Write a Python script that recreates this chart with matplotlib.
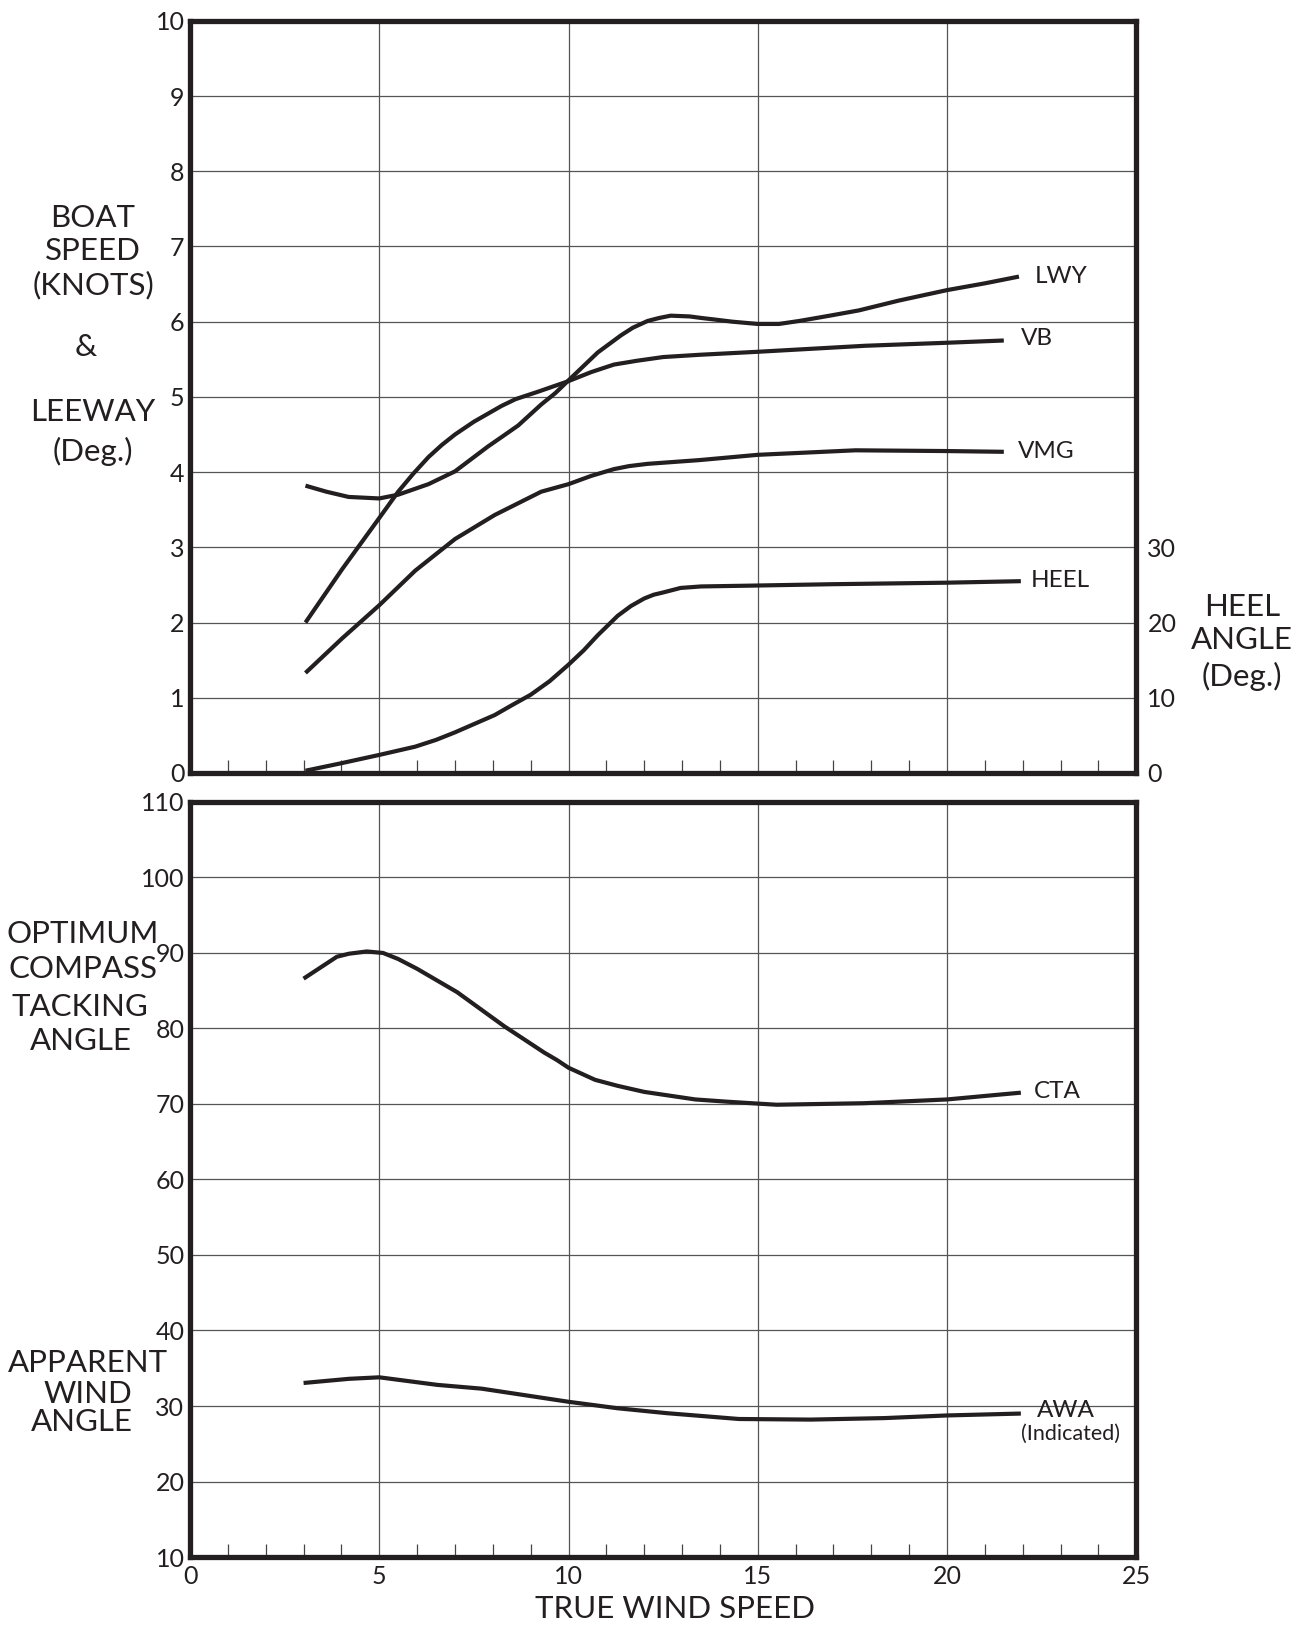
import matplotlib
matplotlib.use("Agg")
import matplotlib.pyplot as plt
from matplotlib.ticker import MultipleLocator, FixedLocator

plt.rcParams['font.family'] = ['Lato', 'DejaVu Sans']

# ---------------- data ----------------
lwy_x = [3.05, 3.6, 4.19, 5.0, 5.5, 6.3, 7.0, 7.87, 8.3, 8.67, 9.28, 9.65, 10.0, 10.77,
         11.39, 11.7, 12.09, 12.4, 12.7, 13.2, 13.5, 13.84, 14.33, 15.0, 15.56, 16.1,
         16.9, 17.67, 18.72, 20.0, 21.0, 21.9]
lwy_y = [3.82, 3.74, 3.67, 3.65, 3.70, 3.84, 4.01, 4.34, 4.49, 4.62, 4.90, 5.05, 5.22,
         5.59, 5.82, 5.92, 6.01, 6.05, 6.08, 6.07, 6.05, 6.03, 6.00, 5.97, 5.97, 6.01,
         6.08, 6.15, 6.28, 6.42, 6.51, 6.60]

vb_x = [3.05, 4.02, 5.0, 5.5, 5.9, 6.3, 6.65, 7.0, 7.5, 8.23, 8.6, 9.2, 9.6, 10.0,
        10.6, 11.2, 11.8, 12.5, 13.46, 15.0, 17.84, 20.0, 21.5]
vb_y = [2.0, 2.71, 3.39, 3.74, 3.98, 4.2, 4.36, 4.5, 4.67, 4.88, 4.97, 5.07, 5.14, 5.21,
        5.33, 5.43, 5.48, 5.53, 5.56, 5.6, 5.68, 5.72, 5.75]

vmg_x = [3.05, 4.02, 5.0, 5.95, 7.0, 8.05, 9.28, 10.0, 10.6, 11.2, 11.6, 12.09, 13.46,
         15.0, 17.58, 20.0, 21.5]
vmg_y = [1.33, 1.79, 2.23, 2.69, 3.11, 3.43, 3.74, 3.84, 3.95, 4.04, 4.08, 4.11, 4.16,
         4.23, 4.29, 4.28, 4.27]

heel_x = [3.05, 4.0, 5.0, 5.95, 6.5, 7.0, 8.05, 8.5, 9.0, 9.5, 10.0, 10.4, 10.77, 11.3,
          11.65, 12.0, 12.25, 12.5, 12.96, 13.5, 14.72, 17.0, 20.0, 21.95]
heel_deg = [0.3, 1.3, 2.4, 3.5, 4.4, 5.4, 7.7, 9.0, 10.4, 12.2, 14.4, 16.3, 18.3, 20.9,
            22.2, 23.2, 23.7, 24.0, 24.6, 24.8, 24.9, 25.1, 25.3, 25.5]

cta_x = [3.0, 3.88, 4.2, 4.67, 5.1, 5.5, 6.0, 7.06, 8.3, 9.36, 9.7, 10.0, 10.7, 11.3,
         12.0, 13.35, 14.2, 15.0, 15.5, 17.8, 20.0, 21.95]
cta_y = [86.6, 89.5, 89.9, 90.2, 90.0, 89.2, 87.9, 84.8, 80.3, 76.8, 75.8, 74.8, 73.2,
         72.4, 71.6, 70.6, 70.3, 70.05, 69.9, 70.1, 70.6, 71.5]

awa_x = [3.0, 4.2, 5.0, 6.53, 7.7, 10.0, 11.3, 12.6, 14.5, 16.4, 18.35, 20.0, 21.95]
awa_y = [33.05, 33.6, 33.8, 32.8, 32.3, 30.56, 29.7, 29.05, 28.28, 28.2, 28.4, 28.75, 29.0]

x_ticks = [0, 5, 10, 15, 20, 25]
top_y_ticks = [0, 1, 2, 3, 4, 5, 6, 7, 8, 9, 10]
heel_ticks = [0, 10, 20, 30]
bot_y_ticks = [10, 20, 30, 40, 50, 60, 70, 80, 90, 100, 110]

# ---------------- styling ----------------
INK = '#231f20'
GRID = '#555555'
W, H = 1315, 1628
fig = plt.figure(figsize=(W / 100, H / 100), dpi=100)

ax_top = fig.add_axes([0.1445, 0.5252, 0.7196, 0.4620])
ax_bot = fig.add_axes([0.1445, 0.0436, 0.7196, 0.4638])

TICK_FS = 18

def style(ax, yticks, ylim, show_x_labels):
    ax.set_xlim(0, 25)
    ax.set_ylim(*ylim)
    ax.xaxis.set_major_locator(FixedLocator(x_ticks))
    ax.xaxis.set_minor_locator(MultipleLocator(1))
    ax.yaxis.set_major_locator(FixedLocator(yticks))
    ax.grid(True, which='major', color=GRID, linewidth=0.9)
    ax.tick_params(axis='both', which='major', length=0, labelsize=TICK_FS,
                   colors=INK, pad=4)
    ax.tick_params(axis='x', which='minor', direction='in', length=9.5,
                   width=0.9, color='#444444', bottom=True, top=False)
    ax.tick_params(axis='y', which='minor', length=0)
    ax.tick_params(axis='x', which='major', pad=6)
    if not show_x_labels:
        ax.set_xticklabels([])
    for s in ax.spines.values():
        s.set_linewidth(3.8)
        s.set_color(INK)
        s.set_zorder(5)
    ax.set_axisbelow(True)

style(ax_top, top_y_ticks, (0, 10), False)
style(ax_bot, bot_y_ticks, (10, 110), True)

LW = 3.0
kw = dict(color=INK, linewidth=LW, solid_capstyle='butt', solid_joinstyle='round',
          zorder=4, clip_on=False)
ax_top.plot(lwy_x, lwy_y, **kw)
ax_top.plot(vb_x, vb_y, **kw)
ax_top.plot(vmg_x, vmg_y, **kw)

ax_heel = ax_top.twinx()
ax_heel.set_ylim(0, 100)
ax_heel.yaxis.set_major_locator(FixedLocator(heel_ticks))
ax_heel.tick_params(axis='y', length=0, labelsize=TICK_FS, colors=INK, pad=8)
for s in ax_heel.spines.values():
    s.set_visible(False)
ax_heel.plot(heel_x, heel_deg, **kw)

ax_bot.plot(cta_x, cta_y, **kw)
ax_bot.plot(awa_x, awa_y, **kw)

# curve labels
LFS = 17.5
ax_top.text(22.33, 6.60, 'LWY', fontsize=LFS, color=INK, va='center', ha='left')
ax_top.text(21.96, 5.77, 'VB', fontsize=LFS, color=INK, va='center', ha='left')
ax_top.text(21.88, 4.28, 'VMG', fontsize=LFS, color=INK, va='center', ha='left')
ax_top.text(22.2, 2.56, 'HEEL', fontsize=LFS, color=INK, va='center', ha='left')
ax_bot.text(22.3, 71.7, 'CTA', fontsize=LFS, color=INK, va='center', ha='left')
ax_bot.text(23.15, 29.4, 'AWA', fontsize=LFS, color=INK, va='center', ha='center')
ax_bot.text(23.25, 26.3, '(Indicated)', fontsize=15.5, color=INK, va='center',
            ha='center')

# side labels (figure pixel positions)
def ftext(px, py, s, fs=22.5, ha='center'):
    fig.text(px / W, 1 - py / H, s, fontsize=fs, color=INK, ha=ha, va='center')

ftext(93, 218, 'BOAT')
ftext(93, 251, 'SPEED')
ftext(93, 285, '(KNOTS)')
ftext(86, 347, '&')
ftext(93, 412, 'LEEWAY')
ftext(93, 451, '(Deg.)')

ftext(1242, 607, 'HEEL')
ftext(1242, 640, 'ANGLE')
ftext(1242, 676, '(Deg.)')

ftext(83, 934, 'OPTIMUM')
ftext(83, 969, 'COMPASS')
ftext(80, 1007, 'TACKING')
ftext(81, 1041, 'ANGLE')

ftext(88, 1363, 'APPARENT')
ftext(88, 1394, 'WIND')
ftext(82, 1422, 'ANGLE')

ftext(675, 1609, 'TRUE WIND SPEED')

fig.savefig('out.png', dpi=100, facecolor='white')
